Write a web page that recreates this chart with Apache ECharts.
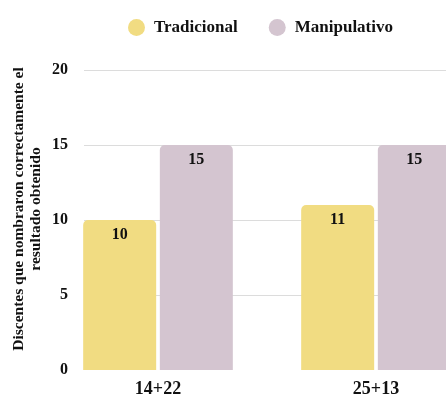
<!DOCTYPE html>
<html>
	<head>
		<meta charset="UTF-8">
		<title></title>
		<style>
			html, body { margin: 0; padding: 0; background: #fff; }
			#chart { width: 446px; height: 396px; }
		</style>
	</head>
	<body>
		<div id="chart"></div>
		<script type="text/javascript" src="https://cdn.jsdelivr.net/npm/echarts@6/dist/echarts.min.js"></script>
		<script>
			// datos del gráfico
			var categorias = ['14+22', '25+13'];
			var tradicional = [10, 11];
			var manipulativo = [15, 15];
			var nombresSeries = ['Tradicional', 'Manipulativo'];
			var tituloEje = 'Discentes que nombraron correctamente el\nresultado obtenido';

			var fuente = '"Liberation Serif", "Times New Roman", serif';

			var chart = echarts.init(document.getElementById('chart'));

			var option = {
				animation: false,
				textStyle: { fontFamily: fuente },
				legend: {
					data: nombresSeries,
					left: 123,
					top: 14,
					icon: 'circle',
					itemWidth: 25,
					itemHeight: 17,
					itemGap: 31,
					textStyle: { fontFamily: fuente, fontWeight: 'bold', fontSize: 17, color: '#111' }
				},
				// grid 0: barras, grid 1: ejes y líneas de fondo
				grid: [
					{ left: 49, width: 436, top: 70, bottom: 26, outerBoundsMode: 'none' },
					{ left: 84, width: 362, top: 70, bottom: 26, outerBoundsMode: 'none' }
				],
				xAxis: [{
					type: 'category',
					gridIndex: 0,
					data: categorias,
					axisLine: { show: false },
					axisTick: { show: false },
					axisLabel: { margin: 10, fontFamily: fuente, fontWeight: 'bold', fontSize: 18, color: '#111' }
				}, {
					type: 'category',
					gridIndex: 1,
					data: [],
					show: false
				}],
				yAxis: [{
					type: 'value',
					gridIndex: 0,
					min: 0, max: 20, interval: 5,
					show: false
				}, {
					type: 'value',
					gridIndex: 1,
					min: 0, max: 20, interval: 5,
					axisLine: { show: false },
					axisTick: { show: false },
					axisLabel: { margin: 16, fontFamily: fuente, fontWeight: 'bold', fontSize: 16, color: '#111' },
					splitLine: { lineStyle: { color: ['transparent', '#dcdcdc', '#dcdcdc', '#dcdcdc', '#dcdcdc'], width: 1 } }
				}],
				graphic: [{
					type: 'text',
					rotation: Math.PI / 2,
					x: 27, y: 209,
					style: {
						text: tituloEje,
						x: 0, y: 0,
						align: 'center',
						verticalAlign: 'middle',
						font: 'bold 15.5px ' + fuente,
						lineHeight: 17,
						fill: '#111'
					}
				}],
				series: [{
					name: nombresSeries[0],
					type: 'bar',
					xAxisIndex: 0,
					yAxisIndex: 0,
					data: tradicional,
					barWidth: 73,
					barGap: '5%',
					itemStyle: { color: '#f1dc82', borderRadius: [5, 5, 0, 0] },
					label: { show: true, position: 'insideTop', distance: 7, fontFamily: fuente, fontWeight: 'bold', fontSize: 16, color: '#111' }
				}, {
					name: nombresSeries[1],
					type: 'bar',
					xAxisIndex: 0,
					yAxisIndex: 0,
					data: manipulativo,
					barWidth: 73,
					barGap: '5%',
					itemStyle: { color: '#d4c5d0', borderRadius: [5, 5, 0, 0] },
					label: { show: true, position: 'insideTop', distance: 7, fontFamily: fuente, fontWeight: 'bold', fontSize: 16, color: '#111' }
				}]
			};

			chart.setOption(option);
		</script>
	</body>
</html>
